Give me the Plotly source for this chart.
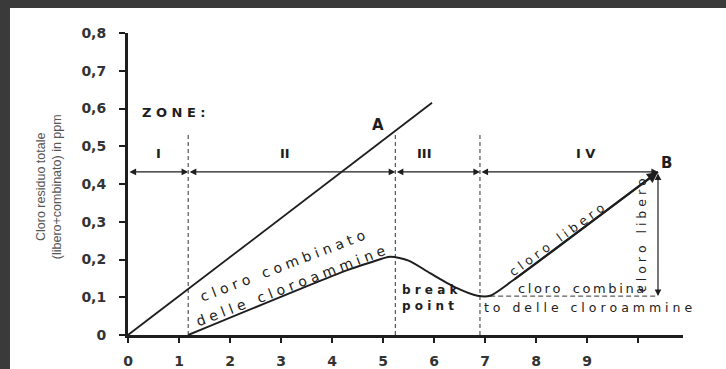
import plotly.graph_objects as go

# -----------------------------------------------------------------------------
# Data
# -----------------------------------------------------------------------------
# Total residual chlorine line (0 -> A)
x_total = [0, 5.96]
y_total = [0, 0.615]

# Combined / free chlorine curve (hump, break point, rise to B)
x_curve = [1.18, 4.3, 4.75, 5.14, 5.5, 5.92, 6.45, 6.85, 7.1, 7.55, 8.5, 10.39]
y_curve = [0.0, 0.172, 0.192, 0.207, 0.197, 0.164, 0.124, 0.104, 0.104, 0.145, 0.24, 0.432]

# Zone boundaries and labels
zone_bounds = [0, 1.18, 5.24, 6.9, 10.39]
zone_names = ['I', 'II', 'III', 'IV']
zone_label_x = [0.59, 3.08, 5.82, 8.96]
zone_arrow_y = 0.432
zone_label_y = 0.482
boundary_top = 0.535

# Residual combined chlorine after the break point
combined_level = 0.103
combined_x = [7.1, 10.39]

x_ticks = list(range(11))
x_ticktext = ['0', '1', '2', '3', '4', '5', '6', '7', '8', '9', '']
y_ticks = [0, 0.1, 0.2, 0.3, 0.4, 0.5, 0.6, 0.7, 0.8]
y_ticktext = ['0', '0,1', '0,2', '0,3', '0,4', '0,5', '0,6', '0,7', '0,8']

ink = '#1e1e1e'
font_main = 'DejaVu Sans'
scan_edge = '#3a3a3a'


def spaced(s, sep=' '):
    # hand-lettered look: wide letter spacing
    return '   '.join(sep.join(w) for w in s.split(' '))


fig = go.Figure()

# dashed zone boundaries
for xb in zone_bounds[1:4]:
    fig.add_trace(go.Scatter(
        x=[xb, xb], y=[0, boundary_top], mode='lines',
        line=dict(color='#333', width=1, dash='4px,3px'),
        hoverinfo='skip', showlegend=False))

# dashed combined chlorine level
fig.add_trace(go.Scatter(
    x=combined_x, y=[combined_level, combined_level], mode='lines',
    line=dict(color='#333', width=1, dash='5px,3px'),
    hoverinfo='skip', showlegend=False))

# total chlorine line
fig.add_trace(go.Scatter(
    x=x_total, y=y_total, mode='lines',
    line=dict(color=ink, width=1.8), showlegend=False))

# break-point curve
fig.add_trace(go.Scatter(
    x=x_curve, y=y_curve, mode='lines',
    line=dict(color=ink, width=2, shape='spline', smoothing=0.7),
    showlegend=False))

annotations = []

# zone arrows
for a, b in zip(zone_bounds[:-1], zone_bounds[1:]):
    annotations.append(dict(
        x=b, y=zone_arrow_y, ax=a, ay=zone_arrow_y,
        xref='x', yref='y', axref='x', ayref='y',
        showarrow=True, arrowside='end+start', arrowhead=2,
        arrowsize=1.1, arrowwidth=1.2, arrowcolor=ink, text=''))

for name, xl in zip(zone_names, zone_label_x):
    annotations.append(dict(
        x=xl, y=zone_label_y, xref='x', yref='y', showarrow=False,
        text=' '.join(name) if name == 'IV' else name,
        font=dict(family=font_main, size=13, color=ink, weight='bold')))

# arrow on the curve at B
annotations.append(dict(
    x=x_curve[-1], y=y_curve[-1], ax=x_curve[-3], ay=y_curve[-3],
    xref='x', yref='y', axref='x', ayref='y', showarrow=True,
    arrowhead=2, arrowsize=1.1, arrowwidth=2, arrowcolor=ink, text=''))

# vertical free chlorine arrow
annotations.append(dict(
    x=zone_bounds[-1], y=combined_level, ax=zone_bounds[-1], ay=zone_arrow_y,
    xref='x', yref='y', axref='x', ayref='y', showarrow=True,
    arrowside='end+start', arrowhead=2, arrowsize=1.1, arrowwidth=1.2,
    arrowcolor=ink, text=''))

labels = [
    dict(x=0.23, y=0.59, text='Z O N E :', size=13, xanchor='left'),
    dict(x=4.9, y=0.556, text='A', size=15, xanchor='center'),
    dict(x=10.55, y=0.456, text='B', size=15, xanchor='center'),
]
for lab in labels:
    annotations.append(dict(
        x=lab['x'], y=lab['y'], xref='x', yref='y', showarrow=False,
        xanchor=lab['xanchor'], text=lab['text'],
        font=dict(family=font_main, size=lab['size'], color=ink, weight='bold')))

# sloped and rotated labels
sloped = [
    dict(x=3.02, y=0.183, text=spaced('cloro combinato'), textangle=-21, size=14),
    dict(x=3.18, y=0.13, text=spaced('delle cloroammine'), textangle=-21, size=14),
    dict(x=8.41, y=0.252, text=spaced('cloro libero'), textangle=-36, size=12.5),
    dict(x=10.08, y=0.265, text=spaced('cloro libero'), textangle=-90, size=12.5),
]
for s in sloped:
    annotations.append(dict(
        x=s['x'], y=s['y'], xref='x', yref='y', showarrow=False,
        text=s['text'], textangle=s['textangle'],
        font=dict(family=font_main, size=s['size'], color='#222')))

annotations += [
    dict(x=5.33, y=0.097, xref='x', yref='y', showarrow=False, xanchor='left',
         align='left', text='<b>' + spaced('break') + '<br>' + spaced('point') + '</b>',
         font=dict(family=font_main, size=12, color=ink)),
    dict(x=7.6, y=0.122, xref='x', yref='y', showarrow=False, xanchor='left',
         text=spaced('cloro combina', '\u2009'),
         font=dict(family=font_main, size=13, color='#222')),
    dict(x=6.93, y=0.074, xref='x', yref='y', showarrow=False, xanchor='left',
         text=spaced('to delle cloroammine'),
         font=dict(family=font_main, size=12.5, color='#222')),
]

# y axis title (two lines)
annotations.append(dict(
    x=-0.142, y=0.49, xref='paper', yref='paper', showarrow=False,
    xanchor='center', yanchor='middle',
    text='Cloro residuo totale<br>(libero+combinato) in ppm', textangle=-90,
    font=dict(family='Liberation Sans', size=12.5, color='#555')))

# dark scanner edges along the left and top of the picture
edges = [
    dict(x0=-0.3, x1=-0.2126, y0=-0.3, y1=1.2),
    dict(x0=-0.3, x1=1.2, y0=1.0828, y1=1.2),
]
shapes = [dict(type='rect', xref='paper', yref='paper', fillcolor=scan_edge,
               line_width=0, layer='above', **e) for e in edges]

fig.update_layout(
    width=726, height=369,
    margin=dict(l=128, r=43, t=33, b=34),
    paper_bgcolor='white',
    plot_bgcolor='white',
    showlegend=False,
    annotations=annotations,
    shapes=shapes,
)

fig.update_xaxes(
    range=[0, 10.88], tickvals=x_ticks, ticktext=x_ticktext, automargin=False,
    showgrid=False, zeroline=False, showline=True, linecolor=ink, linewidth=2.5,
    ticks='outside', ticklen=5, tickwidth=1.5, tickcolor=ink,
    ticklabelstandoff=6,
    tickfont=dict(family=font_main, size=14, color='#333', weight='bold'))
fig.update_yaxes(
    range=[0, 0.8], tickvals=y_ticks, ticktext=y_ticktext, automargin=False,
    showgrid=False, zeroline=False, showline=True, linecolor=ink, linewidth=3,
    ticks='outside', ticklen=6, tickwidth=1.5, tickcolor=ink,
    ticklabelstandoff=10,
    tickfont=dict(family=font_main, size=14, color='#333', weight='bold'))

fig.write_html('out.html', config={'displayModeBar': False},
               post_script="document.body.style.margin='0';"
                           "document.body.style.overflow='hidden';"
                           "document.documentElement.style.overflow='hidden';")
